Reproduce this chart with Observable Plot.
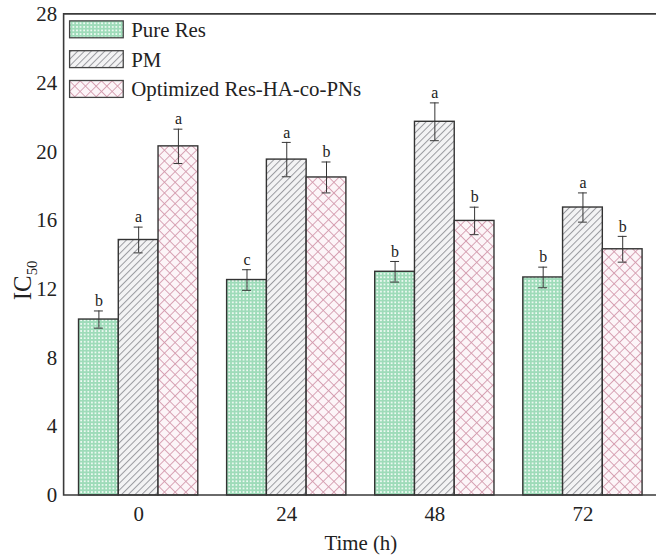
<!DOCTYPE html>
<html>
<head>
<meta charset="utf-8">
<script src="https://cdn.jsdelivr.net/npm/d3@7"></script>
<script src="https://cdn.jsdelivr.net/npm/@observablehq/plot@0.6"></script>
<style>
  html, body { margin: 0; padding: 0; background: #fff; overflow: hidden; width: 656px; height: 559px; }
  #chart { width: 656px; height: 559px; overflow: hidden; }
</style>
</head>
<body>
<div id="chart"></div>
<script>
// ---- data ----
const times = ["0", "24", "48", "72"];
const series = ["Pure Res", "PM", "Optimized Res-HA-co-PNs"];
const pureRes = [10.24, 12.54, 13.02, 12.69];
const pureResErr = [0.5, 0.6, 0.6, 0.6];
const pureResLetters = ["b", "c", "b", "b"];
const pm = [14.87, 19.55, 21.75, 16.76];
const pmErr = [0.75, 1.0, 1.1, 0.85];
const pmLetters = ["a", "a", "a", "a"];
const opt = [20.32, 18.51, 15.98, 14.33];
const optErr = [1.0, 0.9, 0.8, 0.75];
const optLetters = ["a", "b", "b", "b"];
const yTicks = [0, 4, 8, 12, 16, 20, 24, 28];

const patternIds = ["pPure", "pPM", "pOpt"];
const fills = patternIds.map(id => `url(#${id})`);

const table = [];
[[pureRes, pureResErr, pureResLetters], [pm, pmErr, pmLetters], [opt, optErr, optLetters]].forEach(([vals, errs, lets], si) => {
  times.forEach((t, ti) => {
    table.push({time: t, series: series[si], value: vals[ti], lo: vals[ti] - errs[ti], hi: vals[ti] + errs[ti], letter: lets[ti]});
  });
});

const ink = "#333";
const plot = Plot.plot({
  width: 660,
  height: 559,
  marginLeft: 64,
  marginRight: 0,
  marginTop: 14,
  marginBottom: 61,
  style: {fontFamily: "'Liberation Serif', 'Times New Roman', serif", fontSize: "21px", background: "white", color: "#222"},
  fx: {domain: times, paddingInner: 0.195, paddingOuter: 0.0975, axis: "bottom", tickSize: 0, tickPadding: 11, label: "Time (h)", labelAnchor: "center", labelOffset: 55},
  x: {domain: series, axis: null, padding: 0},
  y: {domain: [0, 28], ticks: yTicks, tickSize: 0, tickPadding: 22, label: null},
  color: {domain: series, range: fills},
  marks: [
    Plot.barY(table, {fx: "time", x: "series", y: "value", fill: "series", stroke: ink, strokeWidth: 1.4}),
    Plot.ruleX(table, {fx: "time", x: "series", y1: "lo", y2: "hi", stroke: ink, strokeWidth: 1}),
    Plot.tickY(table, {fx: "time", x: "series", y: "hi", stroke: ink, strokeWidth: 1, insetLeft: 15.5, insetRight: 15.5}),
    Plot.tickY(table, {fx: "time", x: "series", y: "lo", stroke: ink, strokeWidth: 1, insetLeft: 15.5, insetRight: 15.5}),
    Plot.text(table, {fx: "time", x: "series", y: "hi", text: "letter", dy: -10, fontSize: 16, fill: "#222"})
  ]
});

const svg = d3.select(plot.tagName.toLowerCase() === "svg" ? plot : plot.querySelector("svg"));

// patterns
const defs = svg.insert("defs", ":first-child");
const p1 = defs.append("pattern").attr("id", "pPure").attr("patternUnits", "userSpaceOnUse").attr("width", 3.6).attr("height", 3.6);
p1.append("rect").attr("width", 3.6).attr("height", 3.6).attr("fill", "#9edbb9");
p1.append("rect").attr("x", 1).attr("y", 1).attr("width", 1.7).attr("height", 1.7).attr("fill", "#f4fcf7");
const p2 = defs.append("pattern").attr("id", "pPM").attr("patternUnits", "userSpaceOnUse").attr("width", 4.8).attr("height", 4.8).attr("patternTransform", "rotate(45)");
p2.append("rect").attr("width", 4.8).attr("height", 4.8).attr("fill", "#f3f3f4");
p2.append("line").attr("x1", 0.5).attr("y1", 0).attr("x2", 0.5).attr("y2", 4.8).attr("stroke", "#9a9ba0").attr("stroke-width", 1);
const p3 = defs.append("pattern").attr("id", "pOpt").attr("patternUnits", "userSpaceOnUse").attr("width", 7.6).attr("height", 7.6).attr("patternTransform", "rotate(45)");
p3.append("rect").attr("width", 7.6).attr("height", 7.6).attr("fill", "#fcf5f8");
p3.append("line").attr("x1", 0.5).attr("y1", 0).attr("x2", 0.5).attr("y2", 7.6).attr("stroke", "#d39aad").attr("stroke-width", 0.9);
p3.append("line").attr("x1", 0).attr("y1", 0.5).attr("x2", 7.6).attr("y2", 0.5).attr("stroke", "#d39aad").attr("stroke-width", 0.9);

// frame (left, top, bottom) spanning all facets
const ys = plot.scale("y");
const yBottom = ys.apply(0), yTop = ys.apply(28);
const left = 64, right = 660;
const frame = svg.append("g").attr("stroke", "#3a3a3a").attr("stroke-width", 1.6).attr("fill", "none");
frame.append("path").attr("d", `M${right},${yTop}H${left}V${yBottom}H${right}`);

// y label with subscript
const yl = svg.append("text")
  .attr("transform", `translate(31,${(yTop + yBottom) / 2 + 26}) rotate(-90)`)
  .attr("text-anchor", "middle")
  .attr("font-size", 25)
  .attr("fill", "#222");
yl.append("tspan").text("IC");
yl.append("tspan").attr("font-size", 15).attr("dy", 6).text("50");

// legend
const lg = svg.append("g").attr("font-size", 21).attr("fill", "#222").attr("text-anchor", "start");
series.forEach((s, i) => {
  const y0 = 21 + i * 30;
  lg.append("rect").attr("x", 70).attr("y", y0).attr("width", 54).attr("height", 17)
    .attr("fill", fills[i]).attr("stroke", "#444").attr("stroke-width", 1.3);
  lg.append("text").attr("x", 132).attr("y", y0 + 16).attr("text-anchor", "start").text(s);
});

document.getElementById("chart").appendChild(plot);
</script>
</body>
</html>
